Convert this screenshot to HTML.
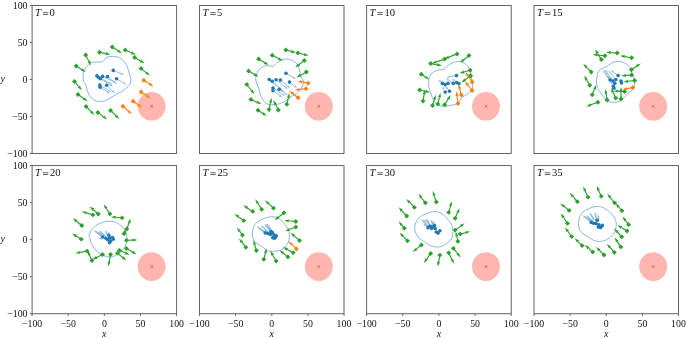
<!DOCTYPE html><html><head><meta charset="utf-8"><style>html,body{margin:0;padding:0;background:#fff;}svg{display:block;will-change:transform;}text{font-family:"Liberation Serif",serif;}</style></head><body>
<svg width="686" height="339" viewBox="0 0 686 339">
<rect width="686" height="339" fill="#fff"/>
<clipPath id="cp0"><rect x="32.1" y="5.5" width="144.5" height="148.0"/></clipPath>
<g clip-path="url(#cp0)">
<ellipse cx="151.6" cy="106.3" rx="14.0" ry="14.3" fill="#ffb6ae"/><path d="M150.2 105.0L152.9 107.6M150.2 107.6L152.9 105.0" stroke="#f0645e" stroke-width="1.0"/><path d="M83.2 77.0C83.2 75.3 83.2 73.4 83.6 71.9C84.0 70.4 84.7 69.1 85.6 67.9C86.5 66.7 87.8 65.6 88.8 64.7C89.8 63.8 90.7 62.9 91.9 62.4C93.1 61.9 94.3 62.0 95.9 62.0C97.5 62.0 100.3 62.3 101.5 62.2C102.7 62.1 102.4 61.8 103.1 61.2C103.8 60.6 104.6 59.1 105.5 58.4C106.4 57.7 107.4 57.1 108.7 56.8C110.0 56.5 111.8 56.3 113.4 56.4C115.0 56.5 116.7 56.7 118.2 57.2C119.7 57.7 121.0 58.6 122.2 59.6C123.4 60.6 124.5 61.9 125.4 63.1C126.3 64.3 126.9 65.8 127.4 67.1C127.9 68.4 128.2 69.8 128.6 71.1C129.0 72.4 129.4 73.8 129.8 75.1C130.2 76.4 130.7 77.8 130.8 79.0C130.9 80.2 130.8 81.0 130.6 82.0C130.4 83.0 130.1 84.0 129.4 85.0C128.7 86.0 127.4 87.0 126.2 88.1C125.0 89.1 123.7 90.4 122.2 91.3C120.7 92.2 118.9 92.9 117.4 93.7C115.9 94.5 114.9 95.2 113.4 96.1C112.0 97.0 110.0 98.2 108.7 98.9C107.4 99.6 106.6 100.1 105.5 100.5C104.4 100.9 103.9 101.2 102.3 101.3C100.7 101.4 97.6 101.4 95.9 100.9C94.2 100.4 93.1 99.6 91.9 98.5C90.7 97.4 89.7 96.1 88.8 94.5C87.9 92.9 87.3 90.5 86.8 88.9C86.3 87.3 86.5 86.2 86.0 85.0C85.5 83.8 84.1 83.1 83.6 81.8C83.1 80.5 83.2 78.7 83.2 77.0Z" fill="none" stroke="#74aadc" stroke-width="0.85"/><line x1="113.2" y1="70.4" x2="121.1" y2="73.7" stroke="#8fbbe0" stroke-width="1.0"/><path d="M123.9 74.8L120.7 74.7L121.5 72.6Z" fill="#8fbbe0"/><line x1="116.6" y1="78.8" x2="123.5" y2="83.0" stroke="#8fbbe0" stroke-width="1.0"/><path d="M126.1 84.6L123.0 84.0L124.1 82.1Z" fill="#8fbbe0"/><line x1="106.6" y1="85.3" x2="112.4" y2="90.9" stroke="#8fbbe0" stroke-width="1.0"/><path d="M114.6 93.0L111.7 91.7L113.2 90.1Z" fill="#8fbbe0"/><line x1="100.1" y1="87.2" x2="107.2" y2="91.8" stroke="#8fbbe0" stroke-width="1.0"/><path d="M109.7 93.4L106.6 92.7L107.8 90.8Z" fill="#8fbbe0"/><line x1="99.8" y1="85.0" x2="108.5" y2="90.4" stroke="#8fbbe0" stroke-width="1.0"/><path d="M111.0 92.0L107.9 91.3L109.0 89.5Z" fill="#8fbbe0"/><line x1="98.6" y1="77.5" x2="109.8" y2="83.2" stroke="#8fbbe0" stroke-width="1.0"/><path d="M112.5 84.5L109.3 84.1L110.3 82.2Z" fill="#8fbbe0"/><line x1="102.6" y1="76.4" x2="113.2" y2="81.5" stroke="#8fbbe0" stroke-width="1.0"/><path d="M115.9 82.8L112.7 82.5L113.7 80.5Z" fill="#8fbbe0"/><line x1="107.5" y1="76.6" x2="114.6" y2="82.2" stroke="#8fbbe0" stroke-width="1.0"/><path d="M117.0 84.0L114.0 83.0L115.3 81.3Z" fill="#8fbbe0"/><line x1="100.4" y1="78.8" x2="110.4" y2="84.9" stroke="#8fbbe0" stroke-width="1.0"/><path d="M113.0 86.5L109.9 85.9L111.0 84.0Z" fill="#8fbbe0"/><circle cx="113.2" cy="70.4" r="1.8" fill="#1f77b4"/><circle cx="96.9" cy="75.7" r="1.8" fill="#1f77b4"/><circle cx="98.6" cy="77.5" r="1.8" fill="#1f77b4"/><circle cx="100.4" cy="78.8" r="1.8" fill="#1f77b4"/><circle cx="102.6" cy="76.4" r="1.8" fill="#1f77b4"/><circle cx="107.5" cy="76.6" r="1.8" fill="#1f77b4"/><circle cx="116.6" cy="78.8" r="1.8" fill="#1f77b4"/><circle cx="99.8" cy="85.0" r="1.8" fill="#1f77b4"/><circle cx="100.1" cy="87.2" r="1.8" fill="#1f77b4"/><circle cx="106.6" cy="85.3" r="1.8" fill="#1f77b4"/><line x1="85.7" y1="55.1" x2="88.8" y2="61.3" stroke="#2ca02c" stroke-width="1.15"/><path d="M91.0 65.6L87.5 62.0L90.2 60.6Z" fill="#2ca02c"/><path d="M85.7 52.6L88.2 55.1L85.7 57.6L83.2 55.1Z" fill="#2ca02c"/><line x1="99.5" y1="52.2" x2="105.7" y2="53.6" stroke="#2ca02c" stroke-width="1.15"/><path d="M110.4 54.6L105.4 55.0L106.0 52.1Z" fill="#2ca02c"/><path d="M99.5 49.8L102.0 52.2L99.5 54.7L97.0 52.2Z" fill="#2ca02c"/><line x1="112.2" y1="46.9" x2="117.9" y2="50.7" stroke="#2ca02c" stroke-width="1.15"/><path d="M121.9 53.3L117.1 51.9L118.7 49.4Z" fill="#2ca02c"/><path d="M112.2 44.4L114.7 46.9L112.2 49.4L109.8 46.9Z" fill="#2ca02c"/><line x1="125.2" y1="49.9" x2="131.6" y2="52.8" stroke="#2ca02c" stroke-width="1.15"/><path d="M136.0 54.8L131.0 54.2L132.2 51.5Z" fill="#2ca02c"/><path d="M125.2 47.4L127.7 49.9L125.2 52.4L122.8 49.9Z" fill="#2ca02c"/><line x1="134.6" y1="57.6" x2="140.4" y2="60.9" stroke="#2ca02c" stroke-width="1.15"/><path d="M144.6 63.3L139.7 62.2L141.2 59.6Z" fill="#2ca02c"/><path d="M134.6 55.1L137.0 57.6L134.6 60.1L132.2 57.6Z" fill="#2ca02c"/><line x1="141.1" y1="68.6" x2="146.2" y2="72.6" stroke="#2ca02c" stroke-width="1.15"/><path d="M150.0 75.5L145.3 73.7L147.1 71.4Z" fill="#2ca02c"/><path d="M141.1 66.1L143.5 68.6L141.1 71.0L138.7 68.6Z" fill="#2ca02c"/><line x1="76.2" y1="66.0" x2="81.6" y2="69.4" stroke="#2ca02c" stroke-width="1.15"/><path d="M85.7 72.0L80.8 70.7L82.4 68.2Z" fill="#2ca02c"/><path d="M76.2 63.5L78.7 66.0L76.2 68.5L73.8 66.0Z" fill="#2ca02c"/><line x1="74.5" y1="81.4" x2="78.7" y2="86.5" stroke="#2ca02c" stroke-width="1.15"/><path d="M81.8 90.2L77.6 87.5L79.9 85.5Z" fill="#2ca02c"/><path d="M74.5 79.0L77.0 81.4L74.5 83.9L72.0 81.4Z" fill="#2ca02c"/><line x1="78.0" y1="94.5" x2="83.8" y2="98.5" stroke="#2ca02c" stroke-width="1.15"/><path d="M87.7 101.3L82.9 99.8L84.6 97.3Z" fill="#2ca02c"/><path d="M78.0 92.0L80.5 94.5L78.0 97.0L75.5 94.5Z" fill="#2ca02c"/><line x1="86.1" y1="106.6" x2="91.0" y2="111.6" stroke="#2ca02c" stroke-width="1.15"/><path d="M94.4 115.0L90.0 112.6L92.1 110.5Z" fill="#2ca02c"/><path d="M86.1 104.1L88.5 106.6L86.1 109.0L83.6 106.6Z" fill="#2ca02c"/><line x1="97.9" y1="112.4" x2="103.3" y2="116.6" stroke="#2ca02c" stroke-width="1.15"/><path d="M107.1 119.6L102.4 117.8L104.2 115.5Z" fill="#2ca02c"/><path d="M97.9 110.0L100.4 112.4L97.9 114.9L95.5 112.4Z" fill="#2ca02c"/><line x1="110.6" y1="110.5" x2="115.9" y2="115.6" stroke="#2ca02c" stroke-width="1.15"/><path d="M119.3 119.0L114.8 116.7L116.9 114.6Z" fill="#2ca02c"/><path d="M110.6 108.0L113.0 110.5L110.6 113.0L108.1 110.5Z" fill="#2ca02c"/><line x1="143.8" y1="80.3" x2="149.4" y2="83.8" stroke="#ff7f0e" stroke-width="1.15"/><path d="M153.5 86.4L148.6 85.1L150.2 82.6Z" fill="#ff7f0e"/><path d="M143.8 77.8L146.2 80.3L143.8 82.8L141.4 80.3Z" fill="#ff7f0e"/><line x1="141.1" y1="92.1" x2="146.6" y2="95.6" stroke="#ff7f0e" stroke-width="1.15"/><path d="M150.7 98.2L145.8 96.9L147.5 94.4Z" fill="#ff7f0e"/><path d="M141.1 89.6L143.5 92.1L141.1 94.5L138.7 92.1Z" fill="#ff7f0e"/><line x1="133.1" y1="101.3" x2="138.4" y2="105.0" stroke="#ff7f0e" stroke-width="1.15"/><path d="M142.3 107.8L137.5 106.3L139.2 103.8Z" fill="#ff7f0e"/><path d="M133.1 98.8L135.5 101.3L133.1 103.8L130.7 101.3Z" fill="#ff7f0e"/><line x1="122.9" y1="106.3" x2="128.4" y2="111.1" stroke="#ff7f0e" stroke-width="1.15"/><path d="M132.0 114.3L127.4 112.3L129.4 110.0Z" fill="#ff7f0e"/><path d="M122.9 103.8L125.4 106.3L122.9 108.8L120.5 106.3Z" fill="#ff7f0e"/>
</g>
<rect x="32.1" y="5.5" width="144.5" height="148.0" fill="none" stroke="#636363" stroke-width="1"/>
<text x="35.00" y="15.80" font-size="10" font-style="italic" fill="#111" textLength="5.9" lengthAdjust="spacingAndGlyphs">T</text>
<rect x="43.00" y="12.45" width="5.3" height="0.65" fill="#111"/>
<rect x="43.00" y="14.30" width="5.3" height="0.65" fill="#111"/>
<text x="49.60" y="16.10" font-size="10.4" fill="#111">0</text>
<line x1="29.900000000000002" y1="5.50" x2="32.1" y2="5.50" stroke="#636363" stroke-width="1"/>
<text x="27.50" y="8.50" font-size="9.85" fill="#111" text-anchor="end">100</text>
<line x1="29.900000000000002" y1="42.50" x2="32.1" y2="42.50" stroke="#636363" stroke-width="1"/>
<text x="27.50" y="45.50" font-size="9.85" fill="#111" text-anchor="end">50</text>
<line x1="29.900000000000002" y1="79.50" x2="32.1" y2="79.50" stroke="#636363" stroke-width="1"/>
<text x="27.50" y="82.50" font-size="9.85" fill="#111" text-anchor="end">0</text>
<line x1="29.900000000000002" y1="116.50" x2="32.1" y2="116.50" stroke="#636363" stroke-width="1"/>
<text x="27.50" y="119.50" font-size="9.85" fill="#111" text-anchor="end">−50</text>
<line x1="29.900000000000002" y1="153.50" x2="32.1" y2="153.50" stroke="#636363" stroke-width="1"/>
<text x="27.50" y="156.50" font-size="9.85" fill="#111" text-anchor="end">−100</text>
<text x="2.7" y="82.00" font-size="10" font-style="italic" fill="#111" text-anchor="middle">y</text>
<clipPath id="cp1"><rect x="199.5" y="5.5" width="144.5" height="148.0"/></clipPath>
<g clip-path="url(#cp1)">
<ellipse cx="318.8" cy="106.3" rx="14.0" ry="14.3" fill="#ffb6ae"/><path d="M317.4 105.0L320.1 107.6M317.4 107.6L320.1 105.0" stroke="#f0645e" stroke-width="1.0"/><path d="M255.8 77.3C256.0 75.9 256.7 73.8 257.4 72.4C258.1 71.0 258.9 70.0 259.9 69.0C260.9 68.0 261.9 67.1 263.2 66.6C264.4 66.0 265.8 65.8 267.4 65.7C269.0 65.6 271.7 66.5 273.1 66.2C274.5 65.9 274.6 64.9 275.6 64.1C276.6 63.3 277.6 62.0 278.9 61.2C280.1 60.4 281.7 59.9 283.1 59.5C284.5 59.1 285.7 59.0 287.2 59.1C288.7 59.2 290.6 59.7 292.1 60.4C293.6 61.1 295.2 62.1 296.3 63.3C297.4 64.5 298.2 65.9 298.8 67.4C299.4 68.9 299.7 70.9 300.0 72.4C300.3 73.9 300.3 75.3 300.8 76.5C301.3 77.7 302.5 78.8 302.9 79.8C303.3 80.8 303.4 81.6 303.4 82.5C303.4 83.4 303.4 83.8 302.9 85.0C302.4 86.2 301.5 88.4 300.4 89.9C299.3 91.4 297.8 92.9 296.3 94.0C294.8 95.1 292.8 95.5 291.3 96.5C289.8 97.5 288.6 98.8 287.2 99.8C285.8 100.8 284.8 101.5 283.1 102.3C281.5 103.1 279.2 104.0 277.3 104.4C275.4 104.8 273.3 104.9 271.5 104.8C269.7 104.7 268.0 104.6 266.5 103.6C265.0 102.6 263.5 100.6 262.4 99.0C261.3 97.4 260.4 95.7 259.9 94.0C259.3 92.3 259.5 90.6 259.1 89.1C258.7 87.6 257.9 86.3 257.4 85.0C256.9 83.7 256.3 82.3 256.0 81.0C255.7 79.7 255.6 78.7 255.8 77.3Z" fill="none" stroke="#74aadc" stroke-width="0.85"/><line x1="286.0" y1="73.3" x2="293.4" y2="77.5" stroke="#8fbbe0" stroke-width="1.0"/><path d="M296.0 79.0L292.8 78.5L293.9 76.6Z" fill="#8fbbe0"/><line x1="269.2" y1="79.5" x2="279.7" y2="88.1" stroke="#8fbbe0" stroke-width="1.0"/><path d="M282.0 90.0L279.0 88.9L280.4 87.2Z" fill="#8fbbe0"/><line x1="272.2" y1="81.3" x2="281.8" y2="90.0" stroke="#8fbbe0" stroke-width="1.0"/><path d="M284.0 92.0L281.0 90.8L282.5 89.2Z" fill="#8fbbe0"/><line x1="276.1" y1="79.8" x2="285.2" y2="87.1" stroke="#8fbbe0" stroke-width="1.0"/><path d="M287.5 89.0L284.5 88.0L285.9 86.3Z" fill="#8fbbe0"/><line x1="280.4" y1="80.1" x2="287.7" y2="86.1" stroke="#8fbbe0" stroke-width="1.0"/><path d="M290.0 88.0L287.0 86.9L288.4 85.2Z" fill="#8fbbe0"/><line x1="289.5" y1="82.1" x2="294.6" y2="86.1" stroke="#8fbbe0" stroke-width="1.0"/><path d="M297.0 88.0L294.0 87.0L295.3 85.3Z" fill="#8fbbe0"/><line x1="273.0" y1="90.7" x2="279.7" y2="95.5" stroke="#8fbbe0" stroke-width="1.0"/><path d="M282.2 97.2L279.1 96.4L280.4 94.6Z" fill="#8fbbe0"/><line x1="279.2" y1="89.2" x2="285.6" y2="93.8" stroke="#8fbbe0" stroke-width="1.0"/><path d="M288.0 95.5L284.9 94.6L286.2 92.9Z" fill="#8fbbe0"/><line x1="273.0" y1="88.0" x2="282.5" y2="94.3" stroke="#8fbbe0" stroke-width="1.0"/><path d="M285.0 96.0L281.9 95.3L283.1 93.4Z" fill="#8fbbe0"/><circle cx="286.0" cy="73.3" r="1.8" fill="#1f77b4"/><circle cx="269.2" cy="79.5" r="1.8" fill="#1f77b4"/><circle cx="272.2" cy="81.3" r="1.8" fill="#1f77b4"/><circle cx="276.1" cy="79.8" r="1.8" fill="#1f77b4"/><circle cx="280.4" cy="80.1" r="1.8" fill="#1f77b4"/><circle cx="289.5" cy="82.1" r="1.8" fill="#1f77b4"/><circle cx="273.0" cy="88.0" r="1.8" fill="#1f77b4"/><circle cx="273.0" cy="90.7" r="1.8" fill="#1f77b4"/><circle cx="279.2" cy="89.2" r="1.8" fill="#1f77b4"/><line x1="248.6" y1="70.9" x2="254.5" y2="74.4" stroke="#2ca02c" stroke-width="1.15"/><path d="M258.6 76.8L253.7 75.7L255.2 73.1Z" fill="#2ca02c"/><path d="M248.6 68.5L251.0 70.9L248.6 73.4L246.2 70.9Z" fill="#2ca02c"/><line x1="258.6" y1="59.1" x2="264.5" y2="62.6" stroke="#2ca02c" stroke-width="1.15"/><path d="M268.6 65.0L263.7 63.9L265.2 61.3Z" fill="#2ca02c"/><path d="M258.6 56.6L261.1 59.1L258.6 61.6L256.2 59.1Z" fill="#2ca02c"/><line x1="272.2" y1="55.2" x2="278.6" y2="58.6" stroke="#2ca02c" stroke-width="1.15"/><path d="M282.8 60.9L277.9 59.9L279.3 57.3Z" fill="#2ca02c"/><path d="M272.2 52.8L274.6 55.2L272.2 57.7L269.8 55.2Z" fill="#2ca02c"/><line x1="285.9" y1="50.0" x2="291.4" y2="51.4" stroke="#2ca02c" stroke-width="1.15"/><path d="M296.0 52.6L291.0 52.9L291.7 50.0Z" fill="#2ca02c"/><path d="M285.9 47.5L288.3 50.0L285.9 52.5L283.4 50.0Z" fill="#2ca02c"/><line x1="297.9" y1="53.1" x2="304.0" y2="54.5" stroke="#2ca02c" stroke-width="1.15"/><path d="M308.7 55.6L303.7 56.0L304.4 53.1Z" fill="#2ca02c"/><path d="M297.9 50.6L300.3 53.1L297.9 55.6L295.4 53.1Z" fill="#2ca02c"/><line x1="304.4" y1="60.6" x2="299.1" y2="64.5" stroke="#2ca02c" stroke-width="1.15"/><path d="M295.2 67.4L298.2 63.3L300.0 65.8Z" fill="#2ca02c"/><path d="M304.4 58.1L306.8 60.6L304.4 63.1L301.9 60.6Z" fill="#2ca02c"/><line x1="306.4" y1="72.1" x2="300.6" y2="75.2" stroke="#2ca02c" stroke-width="1.15"/><path d="M296.4 77.4L299.9 73.8L301.3 76.5Z" fill="#2ca02c"/><path d="M306.4 69.6L308.8 72.1L306.4 74.5L303.9 72.1Z" fill="#2ca02c"/><line x1="246.8" y1="84.5" x2="251.5" y2="90.5" stroke="#2ca02c" stroke-width="1.15"/><path d="M254.5 94.3L250.4 91.5L252.7 89.6Z" fill="#2ca02c"/><path d="M246.8 82.0L249.2 84.5L246.8 87.0L244.4 84.5Z" fill="#2ca02c"/><line x1="250.9" y1="99.4" x2="257.1" y2="102.2" stroke="#2ca02c" stroke-width="1.15"/><path d="M261.5 104.1L256.5 103.5L257.7 100.8Z" fill="#2ca02c"/><path d="M250.9 97.0L253.3 99.4L250.9 101.9L248.5 99.4Z" fill="#2ca02c"/><line x1="258.0" y1="110.2" x2="262.8" y2="113.4" stroke="#2ca02c" stroke-width="1.15"/><path d="M266.8 116.0L262.0 114.6L263.6 112.1Z" fill="#2ca02c"/><path d="M258.0 107.8L260.4 110.2L258.0 112.7L255.6 110.2Z" fill="#2ca02c"/><line x1="269.0" y1="109.6" x2="270.6" y2="102.5" stroke="#2ca02c" stroke-width="1.15"/><path d="M271.6 97.8L272.0 102.8L269.1 102.2Z" fill="#2ca02c"/><path d="M269.0 107.1L271.4 109.6L269.0 112.0L266.6 109.6Z" fill="#2ca02c"/><line x1="278.4" y1="110.0" x2="275.5" y2="104.5" stroke="#2ca02c" stroke-width="1.15"/><path d="M273.3 100.2L276.8 103.8L274.2 105.2Z" fill="#2ca02c"/><path d="M278.4 107.5L280.8 110.0L278.4 112.5L275.9 110.0Z" fill="#2ca02c"/><line x1="286.9" y1="104.3" x2="288.4" y2="97.8" stroke="#2ca02c" stroke-width="1.15"/><path d="M289.5 93.1L289.9 98.1L287.0 97.4Z" fill="#2ca02c"/><path d="M286.9 101.8L289.3 104.3L286.9 106.8L284.4 104.3Z" fill="#2ca02c"/><line x1="308.2" y1="83.3" x2="302.2" y2="82.0" stroke="#ff7f0e" stroke-width="1.15"/><path d="M297.5 81.0L302.5 80.5L301.9 83.5Z" fill="#ff7f0e"/><path d="M308.2 80.8L310.6 83.3L308.2 85.8L305.8 83.3Z" fill="#ff7f0e"/><line x1="306.0" y1="88.7" x2="299.4" y2="89.4" stroke="#ff7f0e" stroke-width="1.15"/><path d="M294.6 89.9L299.2 87.9L299.5 90.9Z" fill="#ff7f0e"/><path d="M306.0 86.2L308.4 88.7L306.0 91.2L303.6 88.7Z" fill="#ff7f0e"/><line x1="298.1" y1="97.8" x2="293.0" y2="93.7" stroke="#ff7f0e" stroke-width="1.15"/><path d="M289.3 90.7L294.0 92.5L292.1 94.9Z" fill="#ff7f0e"/><path d="M298.1 95.3L300.6 97.8L298.1 100.2L295.7 97.8Z" fill="#ff7f0e"/>
</g>
<rect x="199.5" y="5.5" width="144.5" height="148.0" fill="none" stroke="#636363" stroke-width="1"/>
<text x="202.40" y="15.80" font-size="10" font-style="italic" fill="#111" textLength="5.9" lengthAdjust="spacingAndGlyphs">T</text>
<rect x="210.40" y="12.45" width="5.3" height="0.65" fill="#111"/>
<rect x="210.40" y="14.30" width="5.3" height="0.65" fill="#111"/>
<text x="217.00" y="16.10" font-size="10.4" fill="#111">5</text>
<clipPath id="cp2"><rect x="366.6" y="5.5" width="144.6" height="148.0"/></clipPath>
<g clip-path="url(#cp2)">
<ellipse cx="486.0" cy="106.3" rx="14.0" ry="14.3" fill="#ffb6ae"/><path d="M484.6 105.0L487.3 107.6M484.6 107.6L487.3 105.0" stroke="#f0645e" stroke-width="1.0"/><path d="M428.6 83.5C428.6 82.4 428.6 82.0 428.8 80.8C429.0 79.6 429.1 77.7 429.7 76.4C430.3 75.1 431.1 73.8 432.4 72.8C433.7 71.8 435.8 70.8 437.7 70.2C439.6 69.6 442.4 69.9 443.9 69.3C445.4 68.7 445.5 67.5 446.5 66.6C447.5 65.7 448.6 64.8 450.1 64.0C451.6 63.2 453.8 62.2 455.4 61.8C457.0 61.4 458.3 61.3 459.8 61.5C461.3 61.7 462.9 62.2 464.2 63.1C465.5 64.0 466.9 65.4 467.8 66.6C468.7 67.8 469.1 68.7 469.6 70.2C470.1 71.7 470.5 73.7 470.9 75.5C471.3 77.3 471.9 79.1 472.2 80.8C472.5 82.5 472.8 83.8 472.7 85.5C472.6 87.2 472.3 89.3 471.3 90.8C470.3 92.3 468.5 93.2 466.9 94.4C465.3 95.6 463.1 96.4 461.6 97.9C460.1 99.4 459.6 102.0 458.1 103.2C456.6 104.4 454.6 104.5 452.7 105.0C450.8 105.5 448.6 105.9 446.5 106.1C444.4 106.2 442.2 106.4 440.4 105.9C438.6 105.4 436.8 104.4 435.5 103.2C434.2 102.0 433.6 100.6 432.8 98.8C432.0 97.0 431.3 94.5 430.6 92.6C429.9 90.7 429.1 88.8 428.8 87.3C428.5 85.8 428.6 84.6 428.6 83.5Z" fill="none" stroke="#74aadc" stroke-width="0.85"/><line x1="456.5" y1="75.6" x2="449.2" y2="76.8" stroke="#8fbbe0" stroke-width="1.0"/><path d="M446.2 77.3L449.0 75.7L449.3 77.9Z" fill="#8fbbe0"/><line x1="442.4" y1="83.4" x2="446.9" y2="87.9" stroke="#8fbbe0" stroke-width="1.0"/><path d="M449.0 90.0L446.1 88.7L447.7 87.1Z" fill="#8fbbe0"/><line x1="448.0" y1="83.4" x2="444.0" y2="87.8" stroke="#8fbbe0" stroke-width="1.0"/><path d="M442.0 90.0L443.2 87.0L444.8 88.5Z" fill="#8fbbe0"/><line x1="453.2" y1="83.4" x2="448.5" y2="80.2" stroke="#8fbbe0" stroke-width="1.0"/><path d="M446.0 78.5L449.1 79.3L447.9 81.1Z" fill="#8fbbe0"/><line x1="445.2" y1="84.5" x2="440.5" y2="81.6" stroke="#8fbbe0" stroke-width="1.0"/><path d="M438.0 80.0L441.1 80.7L440.0 82.5Z" fill="#8fbbe0"/><line x1="458.9" y1="83.6" x2="454.5" y2="80.7" stroke="#8fbbe0" stroke-width="1.0"/><path d="M452.0 79.0L455.1 79.7L453.9 81.6Z" fill="#8fbbe0"/><circle cx="456.5" cy="75.6" r="1.8" fill="#1f77b4"/><circle cx="442.4" cy="83.4" r="1.8" fill="#1f77b4"/><circle cx="445.2" cy="84.5" r="1.8" fill="#1f77b4"/><circle cx="448.0" cy="83.4" r="1.8" fill="#1f77b4"/><circle cx="453.2" cy="83.4" r="1.8" fill="#1f77b4"/><circle cx="456.5" cy="82.6" r="1.8" fill="#1f77b4"/><circle cx="458.9" cy="83.6" r="1.8" fill="#1f77b4"/><circle cx="445.2" cy="92.1" r="1.8" fill="#1f77b4"/><circle cx="449.5" cy="91.3" r="1.8" fill="#1f77b4"/><line x1="457.0" y1="53.9" x2="448.8" y2="57.1" stroke="#2ca02c" stroke-width="1.15"/><path d="M444.3 58.9L448.2 55.7L449.3 58.5Z" fill="#2ca02c"/><path d="M457.0 51.4L459.4 53.9L457.0 56.4L454.6 53.9Z" fill="#2ca02c"/><line x1="444.7" y1="59.1" x2="436.4" y2="61.9" stroke="#2ca02c" stroke-width="1.15"/><path d="M431.8 63.4L435.9 60.5L436.8 63.3Z" fill="#2ca02c"/><path d="M444.7 56.6L447.1 59.1L444.7 61.6L442.2 59.1Z" fill="#2ca02c"/><line x1="430.6" y1="63.6" x2="437.2" y2="64.7" stroke="#2ca02c" stroke-width="1.15"/><path d="M441.9 65.5L436.9 66.2L437.4 63.2Z" fill="#2ca02c"/><path d="M430.6 61.1L433.1 63.6L430.6 66.0L428.2 63.6Z" fill="#2ca02c"/><line x1="469.0" y1="55.6" x2="463.7" y2="59.7" stroke="#2ca02c" stroke-width="1.15"/><path d="M459.9 62.6L462.8 58.5L464.6 60.9Z" fill="#2ca02c"/><path d="M469.0 53.1L471.4 55.6L469.0 58.1L466.6 55.6Z" fill="#2ca02c"/><line x1="421.4" y1="74.3" x2="425.2" y2="76.9" stroke="#2ca02c" stroke-width="1.15"/><path d="M429.2 79.6L424.4 78.1L426.1 75.7Z" fill="#2ca02c"/><path d="M421.4 71.8L423.8 74.3L421.4 76.8L418.9 74.3Z" fill="#2ca02c"/><line x1="470.2" y1="70.2" x2="464.0" y2="72.0" stroke="#2ca02c" stroke-width="1.15"/><path d="M459.4 73.3L463.6 70.5L464.4 73.4Z" fill="#2ca02c"/><path d="M470.2 67.8L472.6 70.2L470.2 72.7L467.8 70.2Z" fill="#2ca02c"/><line x1="470.7" y1="75.8" x2="465.2" y2="79.8" stroke="#2ca02c" stroke-width="1.15"/><path d="M461.3 82.6L464.3 78.6L466.1 81.0Z" fill="#2ca02c"/><path d="M470.7 73.3L473.1 75.8L470.7 78.2L468.2 75.8Z" fill="#2ca02c"/><line x1="419.7" y1="90.0" x2="425.4" y2="91.2" stroke="#2ca02c" stroke-width="1.15"/><path d="M430.1 92.2L425.1 92.7L425.7 89.7Z" fill="#2ca02c"/><path d="M419.7 87.5L422.1 90.0L419.7 92.5L417.2 90.0Z" fill="#2ca02c"/><line x1="423.0" y1="101.0" x2="424.1" y2="94.4" stroke="#2ca02c" stroke-width="1.15"/><path d="M424.9 89.7L425.6 94.7L422.6 94.2Z" fill="#2ca02c"/><path d="M423.0 98.5L425.4 101.0L423.0 103.5L420.6 101.0Z" fill="#2ca02c"/><line x1="432.5" y1="105.5" x2="434.4" y2="99.3" stroke="#2ca02c" stroke-width="1.15"/><path d="M435.8 94.7L435.8 99.7L433.0 98.9Z" fill="#2ca02c"/><path d="M432.5 103.0L434.9 105.5L432.5 108.0L430.1 105.5Z" fill="#2ca02c"/><line x1="437.9" y1="104.1" x2="439.4" y2="97.5" stroke="#2ca02c" stroke-width="1.15"/><path d="M440.5 92.8L440.9 97.8L438.0 97.1Z" fill="#2ca02c"/><path d="M437.9 101.6L440.3 104.1L437.9 106.5L435.4 104.1Z" fill="#2ca02c"/><line x1="444.7" y1="104.8" x2="448.2" y2="99.0" stroke="#2ca02c" stroke-width="1.15"/><path d="M450.7 94.9L449.5 99.8L446.9 98.2Z" fill="#2ca02c"/><path d="M444.7 102.3L447.1 104.8L444.7 107.2L442.2 104.8Z" fill="#2ca02c"/><line x1="472.1" y1="81.9" x2="468.2" y2="76.0" stroke="#ff7f0e" stroke-width="1.15"/><path d="M465.5 72.0L469.4 75.2L466.9 76.8Z" fill="#ff7f0e"/><path d="M472.1 79.5L474.6 81.9L472.1 84.4L469.7 81.9Z" fill="#ff7f0e"/><line x1="472.1" y1="90.4" x2="467.9" y2="85.0" stroke="#ff7f0e" stroke-width="1.15"/><path d="M465.0 81.2L469.1 84.1L466.7 85.9Z" fill="#ff7f0e"/><path d="M472.1 88.0L474.6 90.4L472.1 92.9L469.7 90.4Z" fill="#ff7f0e"/><line x1="461.3" y1="94.9" x2="459.6" y2="88.6" stroke="#ff7f0e" stroke-width="1.15"/><path d="M458.4 84.0L461.1 88.3L458.2 89.0Z" fill="#ff7f0e"/><path d="M461.3 92.5L463.8 94.9L461.3 97.4L458.9 94.9Z" fill="#ff7f0e"/><line x1="458.0" y1="103.4" x2="457.1" y2="95.9" stroke="#ff7f0e" stroke-width="1.15"/><path d="M456.5 91.1L458.6 95.7L455.6 96.0Z" fill="#ff7f0e"/><path d="M458.0 101.0L460.4 103.4L458.0 105.9L455.6 103.4Z" fill="#ff7f0e"/>
</g>
<rect x="366.6" y="5.5" width="144.6" height="148.0" fill="none" stroke="#636363" stroke-width="1"/>
<text x="369.50" y="15.80" font-size="10" font-style="italic" fill="#111" textLength="5.9" lengthAdjust="spacingAndGlyphs">T</text>
<rect x="377.50" y="12.45" width="5.3" height="0.65" fill="#111"/>
<rect x="377.50" y="14.30" width="5.3" height="0.65" fill="#111"/>
<text x="384.50" y="16.10" font-size="10.4" fill="#111" textLength="10.6" lengthAdjust="spacingAndGlyphs">10</text>
<clipPath id="cp3"><rect x="534.0" y="5.5" width="144.5" height="148.0"/></clipPath>
<g clip-path="url(#cp3)">
<ellipse cx="653.2" cy="106.3" rx="14.0" ry="14.3" fill="#ffb6ae"/><path d="M651.9 105.0L654.6 107.6M651.9 107.6L654.6 105.0" stroke="#f0645e" stroke-width="1.0"/><path d="M596.8 77.5C597.1 75.8 597.6 73.4 598.4 71.9C599.2 70.4 600.3 69.5 601.5 68.7C602.7 67.9 604.3 67.7 605.5 67.1C606.7 66.5 607.5 66.0 608.7 65.2C609.9 64.4 611.2 63.0 612.7 62.4C614.2 61.8 615.9 61.5 617.5 61.4C619.1 61.3 620.8 61.6 622.2 62.0C623.7 62.4 625.0 63.1 626.2 64.0C627.4 64.8 628.5 65.9 629.4 67.1C630.3 68.3 630.8 69.6 631.4 71.1C632.0 72.6 632.5 74.4 633.0 75.9C633.5 77.4 633.9 78.6 634.2 79.9C634.5 81.2 634.6 82.7 634.6 84.0C634.6 85.3 634.8 86.8 634.2 88.0C633.6 89.2 632.2 90.0 631.0 91.1C629.8 92.1 628.3 93.0 627.0 94.3C625.7 95.6 624.3 97.5 623.0 98.7C621.7 99.9 620.6 100.9 619.1 101.5C617.6 102.1 615.9 102.2 614.3 102.3C612.7 102.4 611.0 102.4 609.5 101.9C608.0 101.4 606.7 100.2 605.5 99.1C604.3 98.0 603.4 96.5 602.3 95.1C601.2 93.6 600.0 91.9 599.1 90.4C598.2 89.0 597.7 87.8 597.2 86.4C596.8 85.0 596.5 83.5 596.4 82.0C596.3 80.5 596.5 79.2 596.8 77.5Z" fill="none" stroke="#74aadc" stroke-width="0.85"/><line x1="610.1" y1="80.0" x2="604.7" y2="72.4" stroke="#8fbbe0" stroke-width="1.0"/><path d="M603.0 70.0L605.6 71.8L603.8 73.1Z" fill="#8fbbe0"/><line x1="612.9" y1="81.0" x2="606.7" y2="72.0" stroke="#8fbbe0" stroke-width="1.0"/><path d="M605.0 69.5L607.6 71.3L605.8 72.6Z" fill="#8fbbe0"/><line x1="615.8" y1="79.6" x2="610.4" y2="72.8" stroke="#8fbbe0" stroke-width="1.0"/><path d="M608.5 70.5L611.2 72.2L609.5 73.5Z" fill="#8fbbe0"/><line x1="614.8" y1="83.3" x2="606.5" y2="74.2" stroke="#8fbbe0" stroke-width="1.0"/><path d="M604.5 72.0L607.3 73.5L605.7 75.0Z" fill="#8fbbe0"/><line x1="613.4" y1="86.2" x2="607.6" y2="77.0" stroke="#8fbbe0" stroke-width="1.0"/><path d="M606.0 74.5L608.5 76.4L606.7 77.6Z" fill="#8fbbe0"/><line x1="618.1" y1="75.6" x2="613.4" y2="71.9" stroke="#8fbbe0" stroke-width="1.0"/><path d="M611.0 70.0L614.0 71.0L612.7 72.7Z" fill="#8fbbe0"/><circle cx="618.1" cy="75.6" r="1.8" fill="#1f77b4"/><circle cx="610.1" cy="80.0" r="1.8" fill="#1f77b4"/><circle cx="612.9" cy="81.0" r="1.8" fill="#1f77b4"/><circle cx="615.8" cy="79.6" r="1.8" fill="#1f77b4"/><circle cx="621.0" cy="81.0" r="1.8" fill="#1f77b4"/><circle cx="614.8" cy="83.3" r="1.8" fill="#1f77b4"/><circle cx="613.4" cy="86.2" r="1.8" fill="#1f77b4"/><circle cx="613.9" cy="88.2" r="1.8" fill="#1f77b4"/><circle cx="621.5" cy="83.0" r="1.8" fill="#1f77b4"/><line x1="617.2" y1="53.0" x2="610.7" y2="52.6" stroke="#2ca02c" stroke-width="1.15"/><path d="M605.9 52.3L610.8 51.1L610.6 54.1Z" fill="#2ca02c"/><path d="M617.2 50.5L619.7 53.0L617.2 55.5L614.8 53.0Z" fill="#2ca02c"/><line x1="604.9" y1="55.8" x2="597.4" y2="55.1" stroke="#2ca02c" stroke-width="1.15"/><path d="M592.6 54.6L597.5 53.6L597.2 56.6Z" fill="#2ca02c"/><path d="M604.9 53.3L607.4 55.8L604.9 58.2L602.4 55.8Z" fill="#2ca02c"/><line x1="601.4" y1="59.6" x2="597.5" y2="53.3" stroke="#2ca02c" stroke-width="1.15"/><path d="M595.0 49.2L598.8 52.5L596.2 54.1Z" fill="#2ca02c"/><path d="M601.4 57.1L603.9 59.6L601.4 62.1L598.9 59.6Z" fill="#2ca02c"/><line x1="631.6" y1="57.7" x2="624.7" y2="56.6" stroke="#2ca02c" stroke-width="1.15"/><path d="M620.0 55.8L625.0 55.1L624.5 58.1Z" fill="#2ca02c"/><path d="M631.6 55.2L634.1 57.7L631.6 60.2L629.1 57.7Z" fill="#2ca02c"/><line x1="591.2" y1="72.1" x2="586.5" y2="67.3" stroke="#2ca02c" stroke-width="1.15"/><path d="M583.2 63.8L587.6 66.2L585.5 68.3Z" fill="#2ca02c"/><path d="M591.2 69.6L593.7 72.1L591.2 74.5L588.8 72.1Z" fill="#2ca02c"/><line x1="631.4" y1="69.7" x2="636.8" y2="66.1" stroke="#2ca02c" stroke-width="1.15"/><path d="M640.8 63.4L637.6 67.3L636.0 64.8Z" fill="#2ca02c"/><path d="M631.4 67.2L633.9 69.7L631.4 72.2L628.9 69.7Z" fill="#2ca02c"/><line x1="631.6" y1="75.0" x2="626.0" y2="75.4" stroke="#2ca02c" stroke-width="1.15"/><path d="M621.2 75.8L625.9 73.9L626.1 76.9Z" fill="#2ca02c"/><path d="M631.6 72.5L634.1 75.0L631.6 77.5L629.1 75.0Z" fill="#2ca02c"/><line x1="589.8" y1="85.2" x2="586.6" y2="79.9" stroke="#2ca02c" stroke-width="1.15"/><path d="M584.1 75.8L587.9 79.1L585.3 80.7Z" fill="#2ca02c"/><path d="M589.8 82.8L592.2 85.2L589.8 87.7L587.3 85.2Z" fill="#2ca02c"/><line x1="592.2" y1="94.7" x2="594.5" y2="89.1" stroke="#2ca02c" stroke-width="1.15"/><path d="M596.4 84.7L595.9 89.7L593.2 88.5Z" fill="#2ca02c"/><path d="M592.2 92.2L594.7 94.7L592.2 97.2L589.8 94.7Z" fill="#2ca02c"/><line x1="607.1" y1="100.1" x2="606.1" y2="93.7" stroke="#2ca02c" stroke-width="1.15"/><path d="M605.4 89.0L607.6 93.5L604.6 94.0Z" fill="#2ca02c"/><path d="M607.1 97.6L609.6 100.1L607.1 102.5L604.6 100.1Z" fill="#2ca02c"/><line x1="615.8" y1="98.0" x2="613.1" y2="92.4" stroke="#2ca02c" stroke-width="1.15"/><path d="M611.0 88.1L614.4 91.8L611.7 93.1Z" fill="#2ca02c"/><path d="M615.8 95.5L618.2 98.0L615.8 100.5L613.3 98.0Z" fill="#2ca02c"/><line x1="621.0" y1="98.9" x2="621.0" y2="91.9" stroke="#2ca02c" stroke-width="1.15"/><path d="M621.0 87.1L622.5 91.9L619.5 91.9Z" fill="#2ca02c"/><path d="M621.0 96.5L623.5 98.9L621.0 101.4L618.5 98.9Z" fill="#2ca02c"/><line x1="624.7" y1="91.4" x2="618.2" y2="91.1" stroke="#2ca02c" stroke-width="1.15"/><path d="M613.4 90.9L618.3 89.6L618.1 92.6Z" fill="#2ca02c"/><path d="M624.7 89.0L627.2 91.4L624.7 93.9L622.2 91.4Z" fill="#2ca02c"/><line x1="634.7" y1="80.5" x2="628.1" y2="81.3" stroke="#2ca02c" stroke-width="1.15"/><path d="M623.3 81.9L627.9 79.8L628.2 82.8Z" fill="#2ca02c"/><path d="M634.7 78.0L637.2 80.5L634.7 83.0L632.2 80.5Z" fill="#2ca02c"/><line x1="597.9" y1="102.2" x2="590.9" y2="104.8" stroke="#2ca02c" stroke-width="1.15"/><path d="M586.4 106.4L590.4 103.3L591.4 106.2Z" fill="#2ca02c"/><path d="M597.9 99.8L600.4 102.2L597.9 104.7L595.4 102.2Z" fill="#2ca02c"/><line x1="632.8" y1="87.6" x2="627.1" y2="88.6" stroke="#ff7f0e" stroke-width="1.15"/><path d="M622.4 89.5L626.9 87.2L627.4 90.1Z" fill="#ff7f0e"/><path d="M632.8 85.1L635.2 87.6L632.8 90.0L630.3 87.6Z" fill="#ff7f0e"/>
</g>
<rect x="534.0" y="5.5" width="144.5" height="148.0" fill="none" stroke="#636363" stroke-width="1"/>
<text x="536.90" y="15.80" font-size="10" font-style="italic" fill="#111" textLength="5.9" lengthAdjust="spacingAndGlyphs">T</text>
<rect x="544.90" y="12.45" width="5.3" height="0.65" fill="#111"/>
<rect x="544.90" y="14.30" width="5.3" height="0.65" fill="#111"/>
<text x="551.90" y="16.10" font-size="10.4" fill="#111" textLength="10.6" lengthAdjust="spacingAndGlyphs">15</text>
<clipPath id="cp4"><rect x="32.1" y="165.55" width="144.5" height="148.15"/></clipPath>
<g clip-path="url(#cp4)">
<ellipse cx="151.6" cy="266.6" rx="14.0" ry="14.3" fill="#ffb6ae"/><path d="M150.2 265.2L152.9 268.0M150.2 268.0L152.9 265.2" stroke="#f0645e" stroke-width="1.0"/><path d="M89.2 235.0C89.6 233.4 90.8 230.5 92.4 228.7C94.0 226.8 96.7 225.1 98.8 223.9C100.9 222.8 103.2 222.2 105.2 221.8C107.2 221.4 108.6 221.0 110.5 221.2C112.4 221.4 114.9 221.9 116.8 222.8C118.7 223.7 120.7 225.2 122.1 226.5C123.5 227.8 124.5 229.2 125.3 230.8C126.1 232.4 126.7 234.2 126.9 236.2C127.1 238.2 126.8 240.6 126.4 242.6C126.0 244.6 125.4 246.2 124.3 247.9C123.2 249.6 121.6 251.4 120.0 252.7C118.4 254.0 116.5 255.2 114.7 255.9C112.9 256.6 111.5 257.2 109.4 257.0C107.3 256.8 104.1 255.8 102.0 254.8C99.9 253.8 98.4 252.8 96.7 251.1C95.0 249.4 93.1 246.8 91.9 244.7C90.8 242.6 90.2 240.0 89.8 238.4C89.3 236.8 88.8 236.6 89.2 235.0Z" fill="none" stroke="#74aadc" stroke-width="0.85"/><line x1="102.7" y1="237.1" x2="96.5" y2="232.2" stroke="#8fbbe0" stroke-width="1.5"/><path d="M94.1 230.3L97.1 231.3L95.8 233.0Z" fill="#8fbbe0"/><line x1="105.9" y1="236.5" x2="101.2" y2="232.5" stroke="#8fbbe0" stroke-width="1.5"/><path d="M98.9 230.6L101.9 231.7L100.5 233.4Z" fill="#8fbbe0"/><line x1="107.5" y1="235.0" x2="106.5" y2="232.7" stroke="#8fbbe0" stroke-width="1.5"/><path d="M105.3 230.0L107.5 232.3L105.5 233.2Z" fill="#8fbbe0"/><line x1="108.9" y1="235.6" x2="108.9" y2="234.3" stroke="#8fbbe0" stroke-width="1.5"/><path d="M108.9 231.3L110.0 234.3L107.8 234.3Z" fill="#8fbbe0"/><line x1="102.0" y1="238.6" x2="101.5" y2="238.6" stroke="#8fbbe0" stroke-width="1.5"/><path d="M98.5 238.6L101.5 237.5L101.5 239.7Z" fill="#8fbbe0"/><line x1="104.5" y1="236.5" x2="99.0" y2="233.1" stroke="#8fbbe0" stroke-width="1.5"/><path d="M96.5 231.5L99.6 232.2L98.5 234.0Z" fill="#8fbbe0"/><circle cx="102.7" cy="237.1" r="1.8" fill="#1f77b4"/><circle cx="105.9" cy="238.3" r="1.8" fill="#1f77b4"/><circle cx="108.9" cy="235.6" r="1.8" fill="#1f77b4"/><circle cx="109.5" cy="238.0" r="1.8" fill="#1f77b4"/><circle cx="113.3" cy="239.2" r="1.8" fill="#1f77b4"/><circle cx="109.5" cy="242.7" r="1.8" fill="#1f77b4"/><circle cx="110.7" cy="241.0" r="1.8" fill="#1f77b4"/><circle cx="107.7" cy="239.8" r="1.8" fill="#1f77b4"/><circle cx="112.5" cy="237.5" r="1.8" fill="#1f77b4"/><line x1="92.9" y1="214.9" x2="86.4" y2="212.9" stroke="#2ca02c" stroke-width="1.15"/><path d="M81.8 211.5L86.8 211.5L86.0 214.3Z" fill="#2ca02c"/><path d="M92.9 212.5L95.4 214.9L92.9 217.3L90.5 214.9Z" fill="#2ca02c"/><line x1="98.3" y1="214.0" x2="93.4" y2="209.8" stroke="#2ca02c" stroke-width="1.15"/><path d="M89.8 206.6L94.4 208.6L92.4 210.9Z" fill="#2ca02c"/><path d="M98.3 211.6L100.8 214.0L98.3 216.4L95.8 214.0Z" fill="#2ca02c"/><line x1="109.9" y1="213.8" x2="106.2" y2="208.2" stroke="#2ca02c" stroke-width="1.15"/><path d="M103.6 204.2L107.5 207.4L105.0 209.0Z" fill="#2ca02c"/><path d="M109.9 211.4L112.4 213.8L109.9 216.2L107.5 213.8Z" fill="#2ca02c"/><line x1="122.1" y1="217.8" x2="115.7" y2="217.3" stroke="#2ca02c" stroke-width="1.15"/><path d="M110.9 217.0L115.8 215.8L115.6 218.8Z" fill="#2ca02c"/><path d="M122.1 215.4L124.5 217.8L122.1 220.2L119.6 217.8Z" fill="#2ca02c"/><line x1="81.8" y1="225.5" x2="76.5" y2="221.3" stroke="#2ca02c" stroke-width="1.15"/><path d="M72.8 218.3L77.5 220.1L75.6 222.5Z" fill="#2ca02c"/><path d="M81.8 223.1L84.2 225.5L81.8 227.9L79.3 225.5Z" fill="#2ca02c"/><line x1="126.8" y1="229.0" x2="129.0" y2="222.9" stroke="#2ca02c" stroke-width="1.15"/><path d="M130.6 218.4L130.4 223.4L127.6 222.4Z" fill="#2ca02c"/><path d="M126.8 226.6L129.2 229.0L126.8 231.4L124.3 229.0Z" fill="#2ca02c"/><line x1="124.0" y1="233.7" x2="124.2" y2="233.3" stroke="#2ca02c" stroke-width="1.15"/><path d="M126.2 229.0L125.5 234.0L122.8 232.7Z" fill="#2ca02c"/><path d="M124.0 231.2L126.5 233.7L124.0 236.1L121.5 233.7Z" fill="#2ca02c"/><line x1="81.3" y1="239.2" x2="76.3" y2="236.1" stroke="#2ca02c" stroke-width="1.15"/><path d="M72.2 233.6L77.1 234.8L75.5 237.4Z" fill="#2ca02c"/><path d="M81.3 236.8L83.8 239.2L81.3 241.6L78.8 239.2Z" fill="#2ca02c"/><line x1="126.5" y1="240.3" x2="132.6" y2="240.1" stroke="#2ca02c" stroke-width="1.15"/><path d="M137.4 239.9L132.7 241.6L132.5 238.6Z" fill="#2ca02c"/><path d="M126.5 237.9L128.9 240.3L126.5 242.8L124.0 240.3Z" fill="#2ca02c"/><line x1="126.4" y1="248.5" x2="132.3" y2="251.9" stroke="#2ca02c" stroke-width="1.15"/><path d="M136.5 254.3L131.6 253.2L133.1 250.6Z" fill="#2ca02c"/><path d="M126.4 246.1L128.8 248.5L126.4 250.9L124.0 248.5Z" fill="#2ca02c"/><line x1="119.5" y1="250.3" x2="125.2" y2="252.8" stroke="#2ca02c" stroke-width="1.15"/><path d="M129.6 254.8L124.6 254.2L125.8 251.5Z" fill="#2ca02c"/><path d="M119.5 247.9L122.0 250.3L119.5 252.8L117.0 250.3Z" fill="#2ca02c"/><line x1="117.4" y1="253.2" x2="122.7" y2="257.5" stroke="#2ca02c" stroke-width="1.15"/><path d="M126.4 260.5L121.7 258.6L123.6 256.3Z" fill="#2ca02c"/><path d="M117.4 250.8L119.9 253.2L117.4 255.6L115.0 253.2Z" fill="#2ca02c"/><line x1="110.5" y1="254.5" x2="109.2" y2="261.8" stroke="#2ca02c" stroke-width="1.15"/><path d="M108.3 266.5L107.7 261.5L110.6 262.0Z" fill="#2ca02c"/><path d="M110.5 252.1L113.0 254.5L110.5 256.9L108.0 254.5Z" fill="#2ca02c"/><line x1="102.5" y1="254.5" x2="96.8" y2="257.4" stroke="#2ca02c" stroke-width="1.15"/><path d="M92.5 259.5L96.1 256.0L97.5 258.7Z" fill="#2ca02c"/><path d="M102.5 252.1L105.0 254.5L102.5 256.9L100.0 254.5Z" fill="#2ca02c"/><line x1="91.9" y1="260.5" x2="89.4" y2="254.9" stroke="#2ca02c" stroke-width="1.15"/><path d="M87.5 250.5L90.8 254.3L88.1 255.5Z" fill="#2ca02c"/><path d="M91.9 258.1L94.4 260.5L91.9 262.9L89.5 260.5Z" fill="#2ca02c"/><line x1="87.1" y1="251.1" x2="80.1" y2="252.4" stroke="#2ca02c" stroke-width="1.15"/><path d="M75.4 253.2L79.9 250.9L80.4 253.8Z" fill="#2ca02c"/><path d="M87.1 248.7L89.5 251.1L87.1 253.5L84.6 251.1Z" fill="#2ca02c"/>
</g>
<rect x="32.1" y="165.55" width="144.5" height="148.15" fill="none" stroke="#636363" stroke-width="1"/>
<text x="35.00" y="175.85" font-size="10" font-style="italic" fill="#111" textLength="5.9" lengthAdjust="spacingAndGlyphs">T</text>
<rect x="43.00" y="172.50" width="5.3" height="0.65" fill="#111"/>
<rect x="43.00" y="174.35" width="5.3" height="0.65" fill="#111"/>
<text x="50.00" y="176.15" font-size="10.4" fill="#111" textLength="10.6" lengthAdjust="spacingAndGlyphs">20</text>
<line x1="29.900000000000002" y1="165.55" x2="32.1" y2="165.55" stroke="#636363" stroke-width="1"/>
<text x="27.50" y="169.00" font-size="9.85" fill="#111" text-anchor="end">100</text>
<line x1="29.900000000000002" y1="202.59" x2="32.1" y2="202.59" stroke="#636363" stroke-width="1"/>
<text x="27.50" y="206.04" font-size="9.85" fill="#111" text-anchor="end">50</text>
<line x1="29.900000000000002" y1="239.62" x2="32.1" y2="239.62" stroke="#636363" stroke-width="1"/>
<text x="27.50" y="243.07" font-size="9.85" fill="#111" text-anchor="end">0</text>
<line x1="29.900000000000002" y1="276.66" x2="32.1" y2="276.66" stroke="#636363" stroke-width="1"/>
<text x="27.50" y="280.11" font-size="9.85" fill="#111" text-anchor="end">−50</text>
<line x1="29.900000000000002" y1="313.70" x2="32.1" y2="313.70" stroke="#636363" stroke-width="1"/>
<text x="27.50" y="317.15" font-size="9.85" fill="#111" text-anchor="end">−100</text>
<text x="2.7" y="242.12" font-size="10" font-style="italic" fill="#111" text-anchor="middle">y</text>
<line x1="32.10" y1="313.70000000000005" x2="32.10" y2="315.90000000000003" stroke="#636363" stroke-width="1"/>
<text x="32.10" y="326.70" font-size="9.85" fill="#111" text-anchor="middle">−100</text>
<line x1="68.22" y1="313.70000000000005" x2="68.22" y2="315.90000000000003" stroke="#636363" stroke-width="1"/>
<text x="68.22" y="326.70" font-size="9.85" fill="#111" text-anchor="middle">−50</text>
<line x1="104.35" y1="313.70000000000005" x2="104.35" y2="315.90000000000003" stroke="#636363" stroke-width="1"/>
<text x="104.35" y="326.70" font-size="9.85" fill="#111" text-anchor="middle">0</text>
<line x1="140.47" y1="313.70000000000005" x2="140.47" y2="315.90000000000003" stroke="#636363" stroke-width="1"/>
<text x="140.47" y="326.70" font-size="9.85" fill="#111" text-anchor="middle">50</text>
<line x1="176.60" y1="313.70000000000005" x2="176.60" y2="315.90000000000003" stroke="#636363" stroke-width="1"/>
<text x="176.60" y="326.70" font-size="9.85" fill="#111" text-anchor="middle">100</text>
<text x="104.35" y="336.80" font-size="10" font-style="italic" fill="#111" text-anchor="middle">x</text>
<clipPath id="cp5"><rect x="199.5" y="165.55" width="144.5" height="148.15"/></clipPath>
<g clip-path="url(#cp5)">
<ellipse cx="318.8" cy="266.6" rx="14.0" ry="14.3" fill="#ffb6ae"/><path d="M317.4 265.2L320.1 268.0M317.4 268.0L320.1 265.2" stroke="#f0645e" stroke-width="1.0"/><path d="M252.6 231.1C252.9 229.8 253.3 227.6 254.0 226.2C254.7 224.8 255.5 223.6 256.5 222.6C257.5 221.6 258.7 220.8 260.0 220.1C261.3 219.4 262.9 218.9 264.3 218.4C265.7 217.9 267.1 217.4 268.5 217.1C269.9 216.8 271.4 216.7 272.8 216.8C274.2 216.9 275.7 217.0 277.0 217.5C278.3 218.0 279.4 218.8 280.6 219.8C281.8 220.8 283.0 222.0 284.1 223.3C285.2 224.6 286.5 226.2 287.3 227.6C288.1 229.0 288.8 230.2 289.1 231.8C289.5 233.4 289.5 235.5 289.4 237.1C289.3 238.7 289.1 240.0 288.7 241.3C288.3 242.6 287.7 243.8 286.9 244.9C286.1 246.0 285.2 246.8 284.1 247.7C283.1 248.6 281.9 249.6 280.6 250.2C279.3 250.8 277.7 250.9 276.3 251.1C274.9 251.3 273.5 251.2 272.1 251.2C270.7 251.2 269.2 251.5 267.8 250.9C266.4 250.3 265.0 248.7 263.6 247.7C262.2 246.7 260.7 245.8 259.3 244.9C257.9 244.0 256.1 243.1 255.1 242.0C254.0 240.9 253.5 239.8 253.0 238.5C252.5 237.2 252.3 235.4 252.2 234.2C252.1 233.0 252.3 232.4 252.6 231.1Z" fill="none" stroke="#74aadc" stroke-width="0.85"/><line x1="265.3" y1="232.9" x2="259.4" y2="228.2" stroke="#8fbbe0" stroke-width="1.5"/><path d="M257.0 226.4L260.0 227.4L258.7 229.1Z" fill="#8fbbe0"/><line x1="268.0" y1="232.0" x2="263.1" y2="227.3" stroke="#8fbbe0" stroke-width="1.5"/><path d="M260.9 225.2L263.8 226.5L262.3 228.1Z" fill="#8fbbe0"/><line x1="270.5" y1="231.0" x2="266.3" y2="226.1" stroke="#8fbbe0" stroke-width="1.5"/><path d="M264.4 223.8L267.2 225.4L265.5 226.8Z" fill="#8fbbe0"/><line x1="272.0" y1="231.0" x2="268.0" y2="225.6" stroke="#8fbbe0" stroke-width="1.5"/><path d="M266.2 223.2L268.9 225.0L267.1 226.3Z" fill="#8fbbe0"/><line x1="267.0" y1="233.5" x2="261.5" y2="230.1" stroke="#8fbbe0" stroke-width="1.5"/><path d="M259.0 228.5L262.1 229.2L261.0 231.0Z" fill="#8fbbe0"/><line x1="271.5" y1="232.0" x2="269.4" y2="228.1" stroke="#8fbbe0" stroke-width="1.5"/><path d="M268.0 225.5L270.4 227.6L268.5 228.7Z" fill="#8fbbe0"/><circle cx="265.3" cy="232.9" r="1.8" fill="#1f77b4"/><circle cx="268.0" cy="233.5" r="1.8" fill="#1f77b4"/><circle cx="270.9" cy="231.5" r="1.8" fill="#1f77b4"/><circle cx="272.4" cy="232.6" r="1.8" fill="#1f77b4"/><circle cx="270.3" cy="234.4" r="1.8" fill="#1f77b4"/><circle cx="273.9" cy="234.7" r="1.8" fill="#1f77b4"/><circle cx="276.2" cy="235.9" r="1.8" fill="#1f77b4"/><circle cx="272.7" cy="237.7" r="1.8" fill="#1f77b4"/><circle cx="274.4" cy="238.2" r="1.8" fill="#1f77b4"/><circle cx="275.5" cy="237.0" r="1.8" fill="#1f77b4"/><line x1="252.8" y1="211.4" x2="247.3" y2="207.9" stroke="#2ca02c" stroke-width="1.15"/><path d="M243.3 205.3L248.1 206.6L246.5 209.2Z" fill="#2ca02c"/><path d="M252.8 209.0L255.2 211.4L252.8 213.8L250.4 211.4Z" fill="#2ca02c"/><line x1="261.6" y1="209.3" x2="257.8" y2="203.3" stroke="#2ca02c" stroke-width="1.15"/><path d="M255.3 199.2L259.1 202.5L256.6 204.1Z" fill="#2ca02c"/><path d="M261.6 206.9L264.1 209.3L261.6 211.8L259.2 209.3Z" fill="#2ca02c"/><line x1="273.5" y1="208.2" x2="268.5" y2="203.5" stroke="#2ca02c" stroke-width="1.15"/><path d="M265.0 200.2L269.5 202.4L267.5 204.6Z" fill="#2ca02c"/><path d="M273.5 205.8L275.9 208.2L273.5 210.6L271.1 208.2Z" fill="#2ca02c"/><line x1="243.8" y1="220.6" x2="238.4" y2="216.8" stroke="#2ca02c" stroke-width="1.15"/><path d="M234.5 214.0L239.3 215.6L237.5 218.0Z" fill="#2ca02c"/><path d="M243.8 218.2L246.2 220.6L243.8 223.0L241.4 220.6Z" fill="#2ca02c"/><line x1="283.9" y1="212.8" x2="278.4" y2="217.2" stroke="#2ca02c" stroke-width="1.15"/><path d="M274.6 220.2L277.4 216.0L279.3 218.4Z" fill="#2ca02c"/><path d="M283.9 210.4L286.3 212.8L283.9 215.2L281.4 212.8Z" fill="#2ca02c"/><line x1="295.8" y1="221.5" x2="288.9" y2="220.8" stroke="#2ca02c" stroke-width="1.15"/><path d="M284.1 220.4L289.0 219.4L288.7 222.3Z" fill="#2ca02c"/><path d="M295.8 219.1L298.2 221.5L295.8 223.9L293.4 221.5Z" fill="#2ca02c"/><line x1="295.8" y1="227.0" x2="289.7" y2="229.3" stroke="#2ca02c" stroke-width="1.15"/><path d="M285.2 231.0L289.2 227.9L290.2 230.7Z" fill="#2ca02c"/><path d="M295.8 224.6L298.2 227.0L295.8 229.4L293.4 227.0Z" fill="#2ca02c"/><line x1="242.5" y1="235.2" x2="239.7" y2="231.4" stroke="#2ca02c" stroke-width="1.15"/><path d="M236.9 227.5L240.9 230.5L238.5 232.3Z" fill="#2ca02c"/><path d="M242.5 232.8L244.9 235.2L242.5 237.6L240.1 235.2Z" fill="#2ca02c"/><line x1="245.9" y1="247.3" x2="242.0" y2="242.4" stroke="#2ca02c" stroke-width="1.15"/><path d="M239.0 238.6L243.2 241.4L240.8 243.3Z" fill="#2ca02c"/><path d="M245.9 244.9L248.3 247.3L245.9 249.8L243.5 247.3Z" fill="#2ca02c"/><line x1="256.3" y1="250.5" x2="254.7" y2="244.8" stroke="#2ca02c" stroke-width="1.15"/><path d="M253.4 240.2L256.1 244.4L253.3 245.2Z" fill="#2ca02c"/><path d="M256.3 248.1L258.8 250.5L256.3 252.9L253.9 250.5Z" fill="#2ca02c"/><line x1="263.8" y1="259.3" x2="265.4" y2="252.9" stroke="#2ca02c" stroke-width="1.15"/><path d="M266.6 248.2L266.9 253.2L264.0 252.5Z" fill="#2ca02c"/><path d="M263.8 256.9L266.2 259.3L263.8 261.8L261.4 259.3Z" fill="#2ca02c"/><line x1="276.2" y1="261.1" x2="272.7" y2="255.0" stroke="#2ca02c" stroke-width="1.15"/><path d="M270.3 250.8L274.0 254.2L271.4 255.7Z" fill="#2ca02c"/><path d="M276.2 258.7L278.6 261.1L276.2 263.6L273.8 261.1Z" fill="#2ca02c"/><line x1="287.9" y1="256.9" x2="283.2" y2="253.2" stroke="#2ca02c" stroke-width="1.15"/><path d="M279.4 250.3L284.1 252.1L282.3 254.4Z" fill="#2ca02c"/><path d="M287.9 254.4L290.3 256.9L287.9 259.3L285.4 256.9Z" fill="#2ca02c"/><line x1="293.2" y1="252.6" x2="287.3" y2="249.4" stroke="#2ca02c" stroke-width="1.15"/><path d="M283.1 247.1L288.0 248.1L286.6 250.7Z" fill="#2ca02c"/><path d="M293.2 250.2L295.6 252.6L293.2 255.0L290.8 252.6Z" fill="#2ca02c"/><line x1="299.5" y1="240.5" x2="294.1" y2="235.9" stroke="#2ca02c" stroke-width="1.15"/><path d="M290.5 232.8L295.1 234.8L293.2 237.1Z" fill="#2ca02c"/><path d="M299.5 238.1L301.9 240.5L299.5 242.9L297.1 240.5Z" fill="#2ca02c"/><line x1="296.3" y1="249.0" x2="291.8" y2="244.4" stroke="#ff7f0e" stroke-width="1.15"/><path d="M288.4 241.0L292.8 243.4L290.7 245.5Z" fill="#ff7f0e"/><path d="M296.3 246.6L298.8 249.0L296.3 251.4L293.9 249.0Z" fill="#ff7f0e"/>
</g>
<rect x="199.5" y="165.55" width="144.5" height="148.15" fill="none" stroke="#636363" stroke-width="1"/>
<text x="202.40" y="175.85" font-size="10" font-style="italic" fill="#111" textLength="5.9" lengthAdjust="spacingAndGlyphs">T</text>
<rect x="210.40" y="172.50" width="5.3" height="0.65" fill="#111"/>
<rect x="210.40" y="174.35" width="5.3" height="0.65" fill="#111"/>
<text x="217.40" y="176.15" font-size="10.4" fill="#111" textLength="10.6" lengthAdjust="spacingAndGlyphs">25</text>
<line x1="199.50" y1="313.70000000000005" x2="199.50" y2="315.90000000000003" stroke="#636363" stroke-width="1"/>
<text x="199.50" y="326.70" font-size="9.85" fill="#111" text-anchor="middle">−100</text>
<line x1="235.62" y1="313.70000000000005" x2="235.62" y2="315.90000000000003" stroke="#636363" stroke-width="1"/>
<text x="235.62" y="326.70" font-size="9.85" fill="#111" text-anchor="middle">−50</text>
<line x1="271.75" y1="313.70000000000005" x2="271.75" y2="315.90000000000003" stroke="#636363" stroke-width="1"/>
<text x="271.75" y="326.70" font-size="9.85" fill="#111" text-anchor="middle">0</text>
<line x1="307.88" y1="313.70000000000005" x2="307.88" y2="315.90000000000003" stroke="#636363" stroke-width="1"/>
<text x="307.88" y="326.70" font-size="9.85" fill="#111" text-anchor="middle">50</text>
<line x1="344.00" y1="313.70000000000005" x2="344.00" y2="315.90000000000003" stroke="#636363" stroke-width="1"/>
<text x="344.00" y="326.70" font-size="9.85" fill="#111" text-anchor="middle">100</text>
<text x="271.75" y="336.80" font-size="10" font-style="italic" fill="#111" text-anchor="middle">x</text>
<clipPath id="cp6"><rect x="366.6" y="165.55" width="144.6" height="148.15"/></clipPath>
<g clip-path="url(#cp6)">
<ellipse cx="486.0" cy="266.6" rx="14.0" ry="14.3" fill="#ffb6ae"/><path d="M484.6 265.2L487.3 268.0M484.6 268.0L487.3 265.2" stroke="#f0645e" stroke-width="1.0"/><path d="M415.0 225.1C415.3 223.6 416.0 222.1 416.7 220.9C417.4 219.7 418.2 218.6 419.2 217.7C420.2 216.8 421.4 215.9 422.7 215.2C424.0 214.5 425.7 213.9 427.0 213.4C428.3 212.9 429.3 212.3 430.5 212.0C431.7 211.7 433.1 211.3 434.4 211.3C435.7 211.3 437.1 211.6 438.3 212.0C439.6 212.4 440.7 213.0 441.9 213.8C443.1 214.6 444.3 215.5 445.4 216.6C446.5 217.7 447.6 218.9 448.6 220.2C449.6 221.5 450.7 222.9 451.4 224.4C452.1 225.9 452.7 227.4 452.9 229.0C453.1 230.6 453.0 232.3 452.8 233.8C452.6 235.3 452.5 236.7 451.8 238.0C451.1 239.3 450.0 240.5 448.9 241.6C447.8 242.7 446.7 243.6 445.4 244.4C444.1 245.2 442.6 246.1 441.2 246.5C439.8 246.9 438.4 247.2 436.9 247.1C435.3 247.0 433.4 246.7 431.9 246.2C430.4 245.7 429.1 244.9 427.7 244.1C426.3 243.3 424.9 242.2 423.5 241.2C422.1 240.2 420.4 239.1 419.2 238.0C418.0 236.9 417.1 235.8 416.4 234.5C415.7 233.2 415.0 231.6 414.8 230.0C414.6 228.4 414.7 226.6 415.0 225.1Z" fill="none" stroke="#74aadc" stroke-width="0.85"/><line x1="428.0" y1="226.0" x2="423.3" y2="221.3" stroke="#8fbbe0" stroke-width="1.5"/><path d="M421.2 219.2L424.1 220.5L422.5 222.1Z" fill="#8fbbe0"/><line x1="430.0" y1="225.0" x2="427.8" y2="221.0" stroke="#8fbbe0" stroke-width="1.5"/><path d="M426.3 218.4L428.7 220.5L426.8 221.6Z" fill="#8fbbe0"/><line x1="433.0" y1="224.5" x2="431.8" y2="222.2" stroke="#8fbbe0" stroke-width="1.5"/><path d="M430.5 219.5L432.8 221.7L430.9 222.7Z" fill="#8fbbe0"/><line x1="434.5" y1="225.0" x2="433.9" y2="223.3" stroke="#8fbbe0" stroke-width="1.5"/><path d="M432.8 220.5L434.9 222.9L432.8 223.7Z" fill="#8fbbe0"/><line x1="429.0" y1="228.0" x2="425.4" y2="225.3" stroke="#8fbbe0" stroke-width="1.5"/><path d="M423.0 223.5L426.1 224.4L424.7 226.2Z" fill="#8fbbe0"/><line x1="431.0" y1="225.5" x2="426.3" y2="221.5" stroke="#8fbbe0" stroke-width="1.5"/><path d="M424.0 219.5L427.0 220.6L425.6 222.3Z" fill="#8fbbe0"/><circle cx="428.0" cy="227.8" r="1.8" fill="#1f77b4"/><circle cx="429.8" cy="226.3" r="1.8" fill="#1f77b4"/><circle cx="432.2" cy="226.6" r="1.8" fill="#1f77b4"/><circle cx="434.5" cy="225.5" r="1.8" fill="#1f77b4"/><circle cx="435.1" cy="228.4" r="1.8" fill="#1f77b4"/><circle cx="436.3" cy="232.0" r="1.8" fill="#1f77b4"/><circle cx="439.9" cy="230.8" r="1.8" fill="#1f77b4"/><circle cx="438.1" cy="233.1" r="1.8" fill="#1f77b4"/><circle cx="431.6" cy="228.4" r="1.8" fill="#1f77b4"/><line x1="406.6" y1="216.0" x2="401.9" y2="210.9" stroke="#2ca02c" stroke-width="1.15"/><path d="M398.7 207.3L403.0 209.8L400.8 211.9Z" fill="#2ca02c"/><path d="M406.6 213.6L409.1 216.0L406.6 218.4L404.2 216.0Z" fill="#2ca02c"/><line x1="414.4" y1="207.3" x2="409.7" y2="202.4" stroke="#2ca02c" stroke-width="1.15"/><path d="M406.3 199.0L410.7 201.4L408.6 203.5Z" fill="#2ca02c"/><path d="M414.4 204.9L416.8 207.3L414.4 209.8L411.9 207.3Z" fill="#2ca02c"/><line x1="425.4" y1="202.8" x2="421.3" y2="197.6" stroke="#2ca02c" stroke-width="1.15"/><path d="M418.4 193.8L422.5 196.7L420.2 198.5Z" fill="#2ca02c"/><path d="M425.4 200.4L427.8 202.8L425.4 205.2L422.9 202.8Z" fill="#2ca02c"/><line x1="436.4" y1="202.0" x2="434.2" y2="195.6" stroke="#2ca02c" stroke-width="1.15"/><path d="M432.7 191.1L435.7 195.2L432.8 196.1Z" fill="#2ca02c"/><path d="M436.4 199.6L438.8 202.0L436.4 204.4L433.9 202.0Z" fill="#2ca02c"/><line x1="448.7" y1="212.4" x2="450.5" y2="205.8" stroke="#2ca02c" stroke-width="1.15"/><path d="M451.7 201.2L451.9 206.2L449.0 205.4Z" fill="#2ca02c"/><path d="M448.7 210.0L451.1 212.4L448.7 214.8L446.2 212.4Z" fill="#2ca02c"/><line x1="455.1" y1="218.3" x2="457.6" y2="212.6" stroke="#2ca02c" stroke-width="1.15"/><path d="M459.6 208.2L459.0 213.2L456.3 212.0Z" fill="#2ca02c"/><path d="M455.1 215.9L457.6 218.3L455.1 220.8L452.7 218.3Z" fill="#2ca02c"/><line x1="404.3" y1="228.2" x2="401.8" y2="225.2" stroke="#2ca02c" stroke-width="1.15"/><path d="M398.7 221.5L402.9 224.2L400.6 226.1Z" fill="#2ca02c"/><path d="M404.3 225.8L406.8 228.2L404.3 230.6L401.9 228.2Z" fill="#2ca02c"/><line x1="407.5" y1="240.8" x2="403.0" y2="236.1" stroke="#2ca02c" stroke-width="1.15"/><path d="M399.6 232.7L404.0 235.1L401.9 237.2Z" fill="#2ca02c"/><path d="M407.5 238.4L409.9 240.8L407.5 243.2L405.1 240.8Z" fill="#2ca02c"/><line x1="421.4" y1="245.0" x2="416.3" y2="249.1" stroke="#2ca02c" stroke-width="1.15"/><path d="M412.6 252.1L415.4 247.9L417.3 250.3Z" fill="#2ca02c"/><path d="M421.4 242.6L423.8 245.0L421.4 247.4L418.9 245.0Z" fill="#2ca02c"/><line x1="455.1" y1="230.1" x2="460.7" y2="226.1" stroke="#2ca02c" stroke-width="1.15"/><path d="M464.6 223.3L461.6 227.3L459.8 224.9Z" fill="#2ca02c"/><path d="M455.1 227.7L457.6 230.1L455.1 232.5L452.7 230.1Z" fill="#2ca02c"/><line x1="460.1" y1="234.1" x2="465.6" y2="232.7" stroke="#2ca02c" stroke-width="1.15"/><path d="M470.2 231.5L465.9 234.1L465.2 231.2Z" fill="#2ca02c"/><path d="M460.1 231.7L462.6 234.1L460.1 236.5L457.7 234.1Z" fill="#2ca02c"/><line x1="457.9" y1="241.3" x2="456.8" y2="236.2" stroke="#2ca02c" stroke-width="1.15"/><path d="M455.7 231.5L458.2 235.9L455.3 236.5Z" fill="#2ca02c"/><path d="M457.9 238.9L460.3 241.3L457.9 243.8L455.4 241.3Z" fill="#2ca02c"/><line x1="430.6" y1="253.5" x2="426.6" y2="259.2" stroke="#2ca02c" stroke-width="1.15"/><path d="M423.9 263.1L425.4 258.3L427.9 260.0Z" fill="#2ca02c"/><path d="M430.6 251.1L433.1 253.5L430.6 255.9L428.2 253.5Z" fill="#2ca02c"/><line x1="439.9" y1="255.1" x2="438.6" y2="261.8" stroke="#2ca02c" stroke-width="1.15"/><path d="M437.7 266.5L437.1 261.5L440.1 262.1Z" fill="#2ca02c"/><path d="M439.9 252.7L442.3 255.1L439.9 257.6L437.4 255.1Z" fill="#2ca02c"/><line x1="448.7" y1="252.8" x2="451.8" y2="259.3" stroke="#2ca02c" stroke-width="1.15"/><path d="M453.9 263.6L450.5 259.9L453.2 258.6Z" fill="#2ca02c"/><path d="M448.7 250.4L451.1 252.8L448.7 255.2L446.2 252.8Z" fill="#2ca02c"/><line x1="453.4" y1="248.3" x2="457.6" y2="253.6" stroke="#2ca02c" stroke-width="1.15"/><path d="M460.6 257.4L456.4 254.6L458.8 252.7Z" fill="#2ca02c"/><path d="M453.4 245.9L455.8 248.3L453.4 250.8L450.9 248.3Z" fill="#2ca02c"/>
</g>
<rect x="366.6" y="165.55" width="144.6" height="148.15" fill="none" stroke="#636363" stroke-width="1"/>
<text x="369.50" y="175.85" font-size="10" font-style="italic" fill="#111" textLength="5.9" lengthAdjust="spacingAndGlyphs">T</text>
<rect x="377.50" y="172.50" width="5.3" height="0.65" fill="#111"/>
<rect x="377.50" y="174.35" width="5.3" height="0.65" fill="#111"/>
<text x="384.50" y="176.15" font-size="10.4" fill="#111" textLength="10.6" lengthAdjust="spacingAndGlyphs">30</text>
<line x1="366.60" y1="313.70000000000005" x2="366.60" y2="315.90000000000003" stroke="#636363" stroke-width="1"/>
<text x="366.60" y="326.70" font-size="9.85" fill="#111" text-anchor="middle">−100</text>
<line x1="402.75" y1="313.70000000000005" x2="402.75" y2="315.90000000000003" stroke="#636363" stroke-width="1"/>
<text x="402.75" y="326.70" font-size="9.85" fill="#111" text-anchor="middle">−50</text>
<line x1="438.90" y1="313.70000000000005" x2="438.90" y2="315.90000000000003" stroke="#636363" stroke-width="1"/>
<text x="438.90" y="326.70" font-size="9.85" fill="#111" text-anchor="middle">0</text>
<line x1="475.05" y1="313.70000000000005" x2="475.05" y2="315.90000000000003" stroke="#636363" stroke-width="1"/>
<text x="475.05" y="326.70" font-size="9.85" fill="#111" text-anchor="middle">50</text>
<line x1="511.20" y1="313.70000000000005" x2="511.20" y2="315.90000000000003" stroke="#636363" stroke-width="1"/>
<text x="511.20" y="326.70" font-size="9.85" fill="#111" text-anchor="middle">100</text>
<text x="438.90" y="336.80" font-size="10" font-style="italic" fill="#111" text-anchor="middle">x</text>
<clipPath id="cp7"><rect x="534.0" y="165.55" width="144.5" height="148.15"/></clipPath>
<g clip-path="url(#cp7)">
<ellipse cx="653.2" cy="266.6" rx="14.0" ry="14.3" fill="#ffb6ae"/><path d="M651.9 265.2L654.6 268.0M651.9 268.0L654.6 265.2" stroke="#f0645e" stroke-width="1.0"/><path d="M578.6 221.1C578.8 219.7 579.2 218.2 579.7 216.9C580.2 215.6 581.0 214.3 581.8 213.3C582.6 212.3 583.4 211.6 584.6 210.8C585.8 210.0 587.5 209.3 588.9 208.7C590.3 208.1 591.7 207.4 593.1 207.0C594.5 206.6 596.0 206.4 597.4 206.4C598.8 206.4 600.3 206.6 601.6 207.0C602.9 207.4 604.0 208.0 605.2 208.7C606.4 209.4 607.5 210.2 608.7 211.2C609.9 212.2 611.2 213.5 612.2 214.7C613.2 215.9 614.0 217.0 614.7 218.3C615.4 219.6 615.9 221.3 616.2 222.5C616.5 223.7 616.4 224.5 616.3 225.5C616.2 226.5 616.1 227.2 615.8 228.4C615.5 229.6 615.1 231.3 614.4 232.6C613.7 233.9 612.6 235.1 611.5 236.2C610.4 237.3 609.3 238.2 608.0 239.0C606.7 239.8 605.2 240.4 603.7 240.8C602.2 241.2 600.4 241.6 598.8 241.5C597.1 241.4 595.3 241.0 593.8 240.4C592.3 239.8 590.9 238.7 589.6 237.9C588.3 237.1 587.2 236.3 586.0 235.5C584.8 234.7 583.5 234.2 582.5 233.3C581.5 232.4 580.4 231.1 579.7 229.8C579.1 228.5 578.8 226.9 578.6 225.5C578.4 224.1 578.4 222.5 578.6 221.1Z" fill="none" stroke="#74aadc" stroke-width="0.85"/><line x1="590.5" y1="221.5" x2="585.0" y2="217.2" stroke="#8fbbe0" stroke-width="1.5"/><path d="M582.7 215.3L585.7 216.3L584.4 218.0Z" fill="#8fbbe0"/><line x1="592.5" y1="221.0" x2="588.2" y2="217.3" stroke="#8fbbe0" stroke-width="1.5"/><path d="M585.9 215.3L588.9 216.4L587.5 218.1Z" fill="#8fbbe0"/><line x1="594.0" y1="220.0" x2="591.0" y2="215.0" stroke="#8fbbe0" stroke-width="1.5"/><path d="M589.5 212.4L592.0 214.4L590.1 215.5Z" fill="#8fbbe0"/><line x1="596.5" y1="220.0" x2="595.5" y2="214.8" stroke="#8fbbe0" stroke-width="1.5"/><path d="M595.0 211.8L596.6 214.6L594.5 214.9Z" fill="#8fbbe0"/><line x1="598.5" y1="221.5" x2="598.5" y2="217.5" stroke="#8fbbe0" stroke-width="1.5"/><path d="M598.5 214.5L599.6 217.5L597.4 217.5Z" fill="#8fbbe0"/><line x1="593.0" y1="222.0" x2="589.5" y2="219.7" stroke="#8fbbe0" stroke-width="1.5"/><path d="M587.0 218.0L590.1 218.7L588.9 220.6Z" fill="#8fbbe0"/><circle cx="591.2" cy="222.4" r="1.8" fill="#1f77b4"/><circle cx="593.6" cy="223.3" r="1.8" fill="#1f77b4"/><circle cx="597.1" cy="220.3" r="1.8" fill="#1f77b4"/><circle cx="596.0" cy="223.6" r="1.8" fill="#1f77b4"/><circle cx="598.9" cy="224.8" r="1.8" fill="#1f77b4"/><circle cx="598.3" cy="227.1" r="1.8" fill="#1f77b4"/><circle cx="602.4" cy="225.4" r="1.8" fill="#1f77b4"/><circle cx="600.7" cy="227.4" r="1.8" fill="#1f77b4"/><line x1="569.2" y1="210.4" x2="564.0" y2="206.3" stroke="#2ca02c" stroke-width="1.15"/><path d="M560.2 203.4L564.9 205.2L563.1 207.5Z" fill="#2ca02c"/><path d="M569.2 208.0L571.7 210.4L569.2 212.8L566.8 210.4Z" fill="#2ca02c"/><line x1="577.3" y1="201.7" x2="572.9" y2="196.4" stroke="#2ca02c" stroke-width="1.15"/><path d="M569.8 192.7L574.0 195.4L571.7 197.3Z" fill="#2ca02c"/><path d="M577.3 199.2L579.8 201.7L577.3 204.1L574.8 201.7Z" fill="#2ca02c"/><line x1="588.0" y1="197.2" x2="585.2" y2="191.0" stroke="#2ca02c" stroke-width="1.15"/><path d="M583.2 186.6L586.5 190.4L583.8 191.6Z" fill="#2ca02c"/><path d="M588.0 194.8L590.5 197.2L588.0 199.6L585.5 197.2Z" fill="#2ca02c"/><line x1="601.2" y1="196.3" x2="598.6" y2="190.4" stroke="#2ca02c" stroke-width="1.15"/><path d="M596.7 186.0L600.0 189.8L597.2 191.0Z" fill="#2ca02c"/><path d="M601.2 193.9L603.7 196.3L601.2 198.8L598.8 196.3Z" fill="#2ca02c"/><line x1="614.6" y1="202.8" x2="610.3" y2="197.5" stroke="#2ca02c" stroke-width="1.15"/><path d="M607.3 193.8L611.5 196.6L609.2 198.5Z" fill="#2ca02c"/><path d="M614.6 200.4L617.1 202.8L614.6 205.2L612.1 202.8Z" fill="#2ca02c"/><line x1="621.9" y1="210.7" x2="618.7" y2="207.1" stroke="#2ca02c" stroke-width="1.15"/><path d="M615.5 203.5L619.8 206.1L617.6 208.1Z" fill="#2ca02c"/><path d="M621.9 208.2L624.4 210.7L621.9 213.1L619.4 210.7Z" fill="#2ca02c"/><line x1="567.5" y1="223.4" x2="563.5" y2="217.5" stroke="#2ca02c" stroke-width="1.15"/><path d="M560.8 213.5L564.7 216.6L562.2 218.3Z" fill="#2ca02c"/><path d="M567.5 221.0L570.0 223.4L567.5 225.8L565.0 223.4Z" fill="#2ca02c"/><line x1="571.7" y1="236.6" x2="567.9" y2="231.5" stroke="#2ca02c" stroke-width="1.15"/><path d="M565.0 227.6L569.1 230.6L566.7 232.3Z" fill="#2ca02c"/><path d="M571.7 234.2L574.2 236.6L571.7 239.0L569.2 236.6Z" fill="#2ca02c"/><line x1="582.1" y1="245.6" x2="578.0" y2="241.6" stroke="#2ca02c" stroke-width="1.15"/><path d="M574.6 238.2L579.1 240.5L577.0 242.6Z" fill="#2ca02c"/><path d="M582.1 243.2L584.6 245.6L582.1 248.0L579.6 245.6Z" fill="#2ca02c"/><line x1="592.8" y1="252.0" x2="588.5" y2="248.1" stroke="#2ca02c" stroke-width="1.15"/><path d="M584.9 244.9L589.5 247.0L587.5 249.2Z" fill="#2ca02c"/><path d="M592.8 249.6L595.2 252.0L592.8 254.4L590.3 252.0Z" fill="#2ca02c"/><line x1="604.0" y1="255.0" x2="599.5" y2="250.3" stroke="#2ca02c" stroke-width="1.15"/><path d="M596.1 246.9L600.5 249.3L598.4 251.4Z" fill="#2ca02c"/><path d="M604.0 252.6L606.5 255.0L604.0 257.4L601.5 255.0Z" fill="#2ca02c"/><line x1="614.3" y1="252.3" x2="610.0" y2="247.4" stroke="#2ca02c" stroke-width="1.15"/><path d="M606.8 243.8L611.1 246.4L608.9 248.4Z" fill="#2ca02c"/><path d="M614.3 249.9L616.8 252.3L614.3 254.8L611.8 252.3Z" fill="#2ca02c"/><line x1="620.8" y1="246.9" x2="617.2" y2="241.4" stroke="#2ca02c" stroke-width="1.15"/><path d="M614.6 237.4L618.5 240.6L616.0 242.2Z" fill="#2ca02c"/><path d="M620.8 244.5L623.2 246.9L620.8 249.3L618.3 246.9Z" fill="#2ca02c"/><line x1="621.7" y1="236.8" x2="617.3" y2="232.0" stroke="#2ca02c" stroke-width="1.15"/><path d="M614.1 228.4L618.4 231.0L616.2 233.0Z" fill="#2ca02c"/><path d="M621.7 234.4L624.2 236.8L621.7 239.2L619.2 236.8Z" fill="#2ca02c"/><line x1="627.0" y1="231.0" x2="621.5" y2="227.5" stroke="#2ca02c" stroke-width="1.15"/><path d="M617.4 225.0L622.3 226.3L620.7 228.8Z" fill="#2ca02c"/><path d="M627.0 228.6L629.5 231.0L627.0 233.4L624.5 231.0Z" fill="#2ca02c"/><line x1="628.6" y1="224.7" x2="625.4" y2="220.4" stroke="#2ca02c" stroke-width="1.15"/><path d="M622.5 216.5L626.6 219.5L624.2 221.2Z" fill="#2ca02c"/><path d="M628.6 222.2L631.1 224.7L628.6 227.1L626.1 224.7Z" fill="#2ca02c"/>
</g>
<rect x="534.0" y="165.55" width="144.5" height="148.15" fill="none" stroke="#636363" stroke-width="1"/>
<text x="536.90" y="175.85" font-size="10" font-style="italic" fill="#111" textLength="5.9" lengthAdjust="spacingAndGlyphs">T</text>
<rect x="544.90" y="172.50" width="5.3" height="0.65" fill="#111"/>
<rect x="544.90" y="174.35" width="5.3" height="0.65" fill="#111"/>
<text x="551.90" y="176.15" font-size="10.4" fill="#111" textLength="10.6" lengthAdjust="spacingAndGlyphs">35</text>
<line x1="534.00" y1="313.70000000000005" x2="534.00" y2="315.90000000000003" stroke="#636363" stroke-width="1"/>
<text x="534.00" y="326.70" font-size="9.85" fill="#111" text-anchor="middle">−100</text>
<line x1="570.12" y1="313.70000000000005" x2="570.12" y2="315.90000000000003" stroke="#636363" stroke-width="1"/>
<text x="570.12" y="326.70" font-size="9.85" fill="#111" text-anchor="middle">−50</text>
<line x1="606.25" y1="313.70000000000005" x2="606.25" y2="315.90000000000003" stroke="#636363" stroke-width="1"/>
<text x="606.25" y="326.70" font-size="9.85" fill="#111" text-anchor="middle">0</text>
<line x1="642.38" y1="313.70000000000005" x2="642.38" y2="315.90000000000003" stroke="#636363" stroke-width="1"/>
<text x="642.38" y="326.70" font-size="9.85" fill="#111" text-anchor="middle">50</text>
<line x1="678.50" y1="313.70000000000005" x2="678.50" y2="315.90000000000003" stroke="#636363" stroke-width="1"/>
<text x="678.50" y="326.70" font-size="9.85" fill="#111" text-anchor="middle">100</text>
<text x="606.25" y="336.80" font-size="10" font-style="italic" fill="#111" text-anchor="middle">x</text>
</svg></body></html>
